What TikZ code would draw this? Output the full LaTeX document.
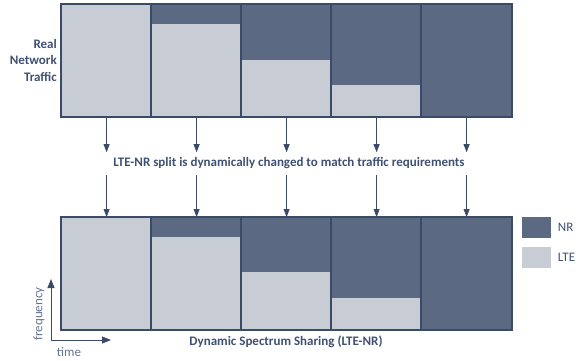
\documentclass[tikz,border=0pt]{standalone}
\usepackage{fontspec}
\setmainfont{Carlito}
\usetikzlibrary{positioning,arrows.meta,calc}

\definecolor{nrblue}{HTML}{5B6A82}
\definecolor{ltegray}{HTML}{C8CCD4}
\definecolor{edgeblue}{HTML}{3A4B68}
\definecolor{txtblue}{HTML}{3E5172}

\tikzset{
    slot/.style={draw=edgeblue, line width=1.2pt, fill=ltegray, inner sep=0pt,
        minimum width=90pt, minimum height=112pt},
    arr/.style={draw=edgeblue, line width=0.8pt, -{Triangle[width=6pt,length=8pt]}},
    axis/.style={draw=edgeblue, line width=0.8pt, -{Triangle[width=7pt,length=9pt]}},
    lbl/.style={text=txtblue, font=\bfseries\fontsize{13}{16.5}\selectfont},
    plain/.style={text=txtblue, font=\fontsize{13}{15}\selectfont},
    key/.style={fill=#1, minimum width=29pt, minimum height=21pt, inner sep=0pt},
}

\begin{document}
\begin{tikzpicture}[x=1pt, y=-1pt]
    \useasboundingbox (0,0) rectangle (576,360);

    % real traffic (top) and spectrum split (bottom)
    \foreach \i/\t/\b in {1/0/0, 2/20/20, 3/56/55, 4/81/81, 5/112/112}{
        \node[slot, anchor=north west] (t\i) at (61+90*\i-90, 4) {};
        \node[slot, anchor=north west] (b\i) at (61+90*\i-90, 217) {};
        \fill[nrblue] (t\i.north west) rectangle ++(90,\t);
        \fill[nrblue] (b\i.north west) rectangle ++(90,\b);
        \draw[edgeblue, line width=1.2pt] (t\i.north west) rectangle (t\i.south east);
        \draw[edgeblue, line width=1.2pt] (b\i.north west) rectangle (b\i.south east);
        \coordinate (u\i) at ($(t\i.south)+(0,35)$);
        \coordinate (d\i) at ($(b\i.north)+(0,-42)$);
        \draw[arr] (t\i.south) -- (u\i);
        \draw[arr] (d\i) -- (b\i.north);
    }
    \draw[edgeblue, line width=2pt] (t1.north west) rectangle (t5.south east);
    \draw[edgeblue, line width=2pt] (b1.north west) rectangle (b5.south east);

    \node[lbl, align=right, anchor=east, inner sep=0pt] (real) at (57,60) {Real\\Network\\Traffic};
    \node[lbl] (split) at (289,163)
        {LTE-NR split is dynamically changed to match traffic requirements};
    \node[lbl] (dss) at (286,342) {Dynamic Spectrum Sharing (LTE-NR)};

    % legend
    \node[key=nrblue, anchor=north west] (nr) at (522,217) {};
    \node[key=ltegray, anchor=north west] (lte) at (522,247) {};
    \node[plain, right=3pt of nr] {NR};
    \node[plain, right=3pt of lte] {LTE};

    % axes
    \coordinate (origin) at (51,340);
    \coordinate (fend) at (51,279);
    \coordinate (tend) at (111,340);
    \draw[axis] (origin) -- (fend);
    \draw[axis] (origin) -- (tend);
    \node[plain, text=txtblue!80, rotate=90] (freq) at (39,314) {frequency};
    \node[plain, text=txtblue!80] (time) at (69,352) {time};
\end{tikzpicture}
\end{document}
